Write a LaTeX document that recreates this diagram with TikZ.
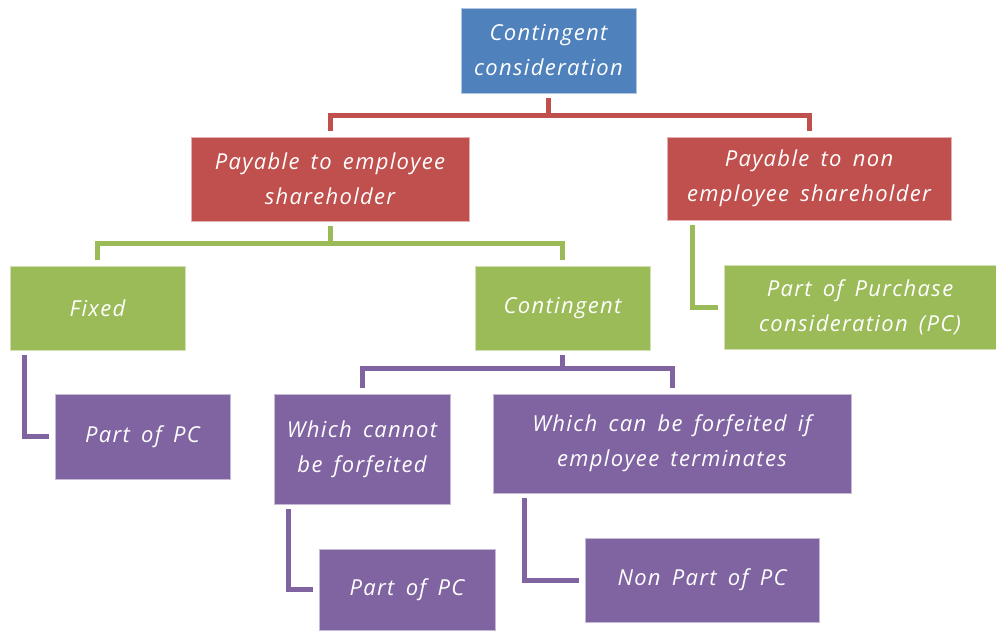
\documentclass[tikz,border=0pt]{standalone}
\usepackage{fontspec}
\setmainfont[LetterSpace=6,WordSpace=1.6]{Open Sans}
\usepackage{tikz}
\definecolor{boxblue}{HTML}{4F81BD}
\definecolor{boxred}{HTML}{C0504D}
\definecolor{boxgreen}{HTML}{9BBB59}
\definecolor{boxpurple}{HTML}{8064A2}

\begin{document}
\begin{tikzpicture}[x=1pt,y=-1pt,
    box/.style={draw=white!55!#1, line width=0.6pt, fill=#1, text=white, align=center,
      inner sep=0pt, font=\fontsize{22}{35}\selectfont\itshape},
    link/.style={draw=#1, line width=5pt, shorten <=5pt, shorten >=6pt}]
    \useasboundingbox (0,0) rectangle (996,631);
    \node[box=boxblue, minimum width=175pt, minimum height=85pt] (contcons) at (548.5,50.5) {Contingent\\consideration};
    \node[box=boxred, minimum width=278pt, minimum height=84pt] (empl) at (330,179) {Payable to employee\\shareholder};
    \node[box=boxred, minimum width=284pt, minimum height=83pt] (nonempl) at (809,178.5) {Payable to non\\employee shareholder};
    \node[box=boxgreen, minimum width=175pt, minimum height=84pt] (fixed) at (97.5,308) {Fixed};
    \node[box=boxgreen, minimum width=175pt, minimum height=84pt] (contingent) at (562.5,308) {Contingent};
    \node[box=boxgreen, minimum width=272pt, minimum height=84pt] (purchase) at (860,307) {Part of Purchase\\consideration (PC)};
    \node[box=boxpurple, minimum width=175pt, minimum height=85pt] (pcfixed) at (142.5,436.5) {Part of PC};
    \node[box=boxpurple, minimum width=176pt, minimum height=110pt] (cannot) at (362,449) {Which cannot\\be forfeited};
    \node[box=boxpurple, minimum width=358pt, minimum height=99pt] (can) at (672,443.5) {Which can be forfeited if\\employee terminates};
    \node[box=boxpurple, minimum width=176pt, minimum height=81pt] (pccannot) at (407,589.5) {Part of PC};
    \node[box=boxpurple, minimum width=234pt, minimum height=84pt] (nonpc) at (702,580) {Non Part of PC};

    \draw[link=boxred] (contcons.south) -- ++(0,22) -| (empl.north);
    \draw[link=boxred] (contcons.south) -- ++(0,22) -| (nonempl.north);
    \draw[link=boxgreen] (empl.south) -- ++(0,22) -| (fixed.north);
    \draw[link=boxgreen] (empl.south) -- ++(0,22) -| (contingent.north);
    \draw[link=boxgreen] ([xshift=26pt]nonempl.south west) |- (purchase.west);
    \draw[link=boxpurple] ([xshift=15pt]fixed.south west) |- (pcfixed.west);
    \draw[link=boxpurple] (contingent.south) -- ++(0,18) -| (cannot.north);
    \draw[link=boxpurple] (contingent.south) -- ++(0,18) -| (can.north);
    \draw[link=boxpurple] ([xshift=15pt]cannot.south west) |- (pccannot.west);
    \draw[link=boxpurple] ([xshift=32pt]can.south west) |- (nonpc.west);
\end{tikzpicture}
\end{document}
